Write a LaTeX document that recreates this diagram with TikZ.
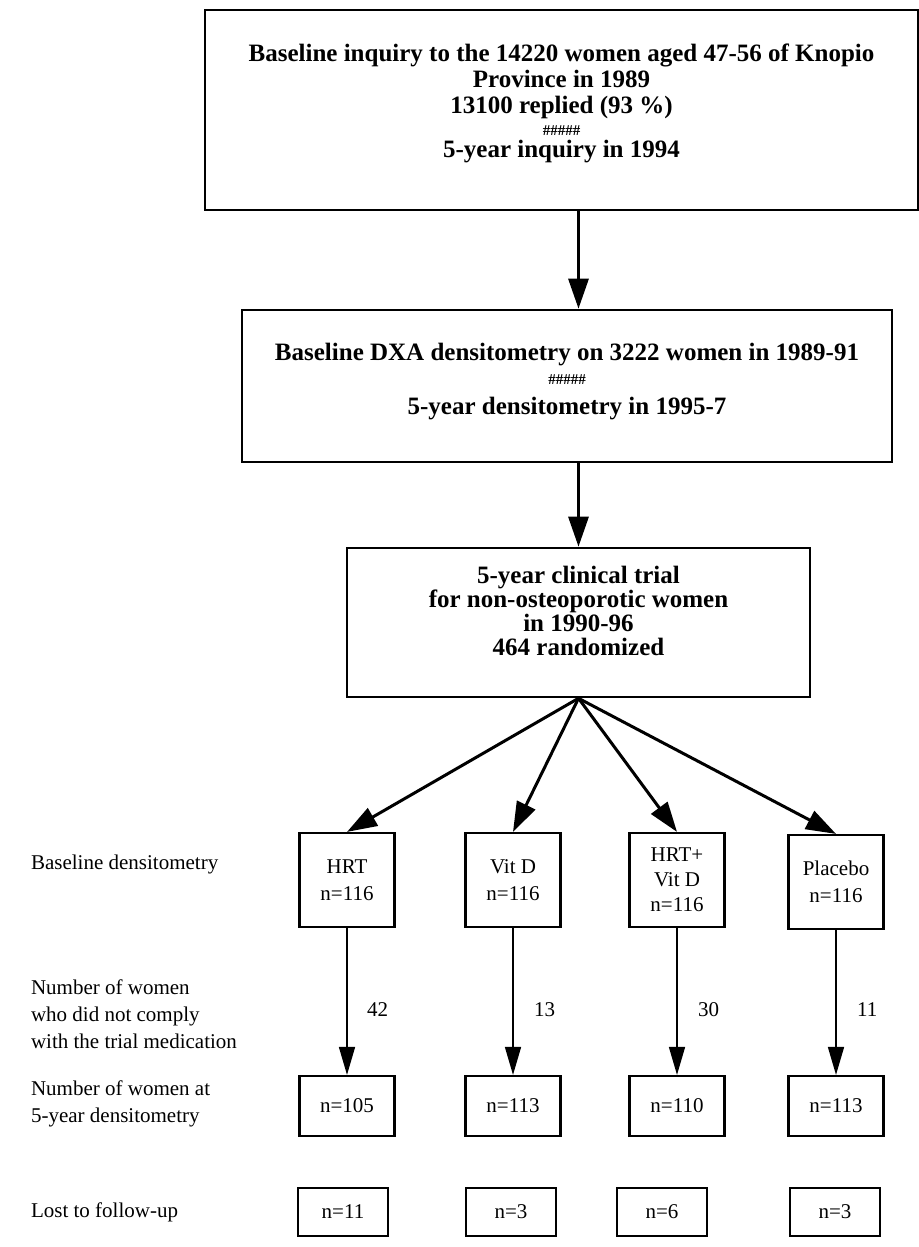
\documentclass[tikz,border=0pt]{standalone}
\usepackage{fontspec}
\setmainfont{Liberation Serif}
\usetikzlibrary{arrows.meta}
\tikzset{>={Triangle[length=14pt,width=8pt]}}
\tikzset{
  stagebox/.style={draw, line width=1.3pt, align=center, font=\bfseries\fontsize{12.5}{13}\selectfont},
  armbox/.style={draw, line width=1.1pt, align=center, minimum width=47.5pt, font=\fontsize{10.5}{13.5}\selectfont},
  rowlabel/.style={anchor=west, align=left, font=\fontsize{10.5}{13.5}\selectfont},
  dropcount/.style={anchor=west, font=\fontsize{10.5}{12}\selectfont},
  fan/.style={-{Triangle[length=15pt,width=10pt]}, line width=1.5pt}
}
\newcommand{\hashrow}{{\fontsize{7.5}{7.5}\selectfont\#\#\#\#\#}}

\begin{document}
\begin{tikzpicture}[x=0.5pt, y=-0.5pt]
    \useasboundingbox (0,0) rectangle (919,1247);

    \node[stagebox, minimum width=356.5pt, minimum height=100pt, text depth=9pt] (inquiry) at (561.5,110) {Baseline inquiry to the 14220 women aged 47-56 of Knopio \\ Province in 1989 \\ 13100 replied (93 \%) \\[-2pt] \hashrow \\[-2pt] 5-year inquiry in 1994};
    \node[stagebox, minimum width=325pt, minimum height=76pt, text depth=7pt] (dxa) at (567,386) {Baseline DXA densitometry on 3222 women in 1989-91 \\[-1pt] \hashrow \\[2pt] 5-year densitometry in 1995-7};
    \node[stagebox, minimum width=231.5pt, minimum height=74.5pt, text depth=12pt, font=\bfseries\fontsize{12.5}{12}\selectfont] (trial) at (578.5,622.5) {5-year clinical trial \\ for non-osteoporotic women \\ in 1990-96 \\ 464 randomized};
    \draw[fan] (inquiry.south -| trial.north) -- (dxa.north -| trial.north);
    \draw[fan] (dxa.south -| trial.north) -- (trial.north);

    \node[armbox, minimum height=47pt] (hrt) at (347,880) {HRT \\ n=116};
    \node[armbox, minimum height=47pt] (vitd) at (513,880) {Vit D \\ n=116};
    \node[armbox, minimum height=47pt, font=\fontsize{10.5}{12.5}\selectfont] (combo) at (677,880) {HRT+ \\ Vit D \\ n=116};
    \node[armbox, minimum height=47pt] (placebo) at (836,882) {Placebo \\ n=116};
    \draw[fan] (trial.south) -- (hrt.north);
    \draw[fan] (trial.south) -- (vitd.north);
    \draw[fan] (trial.south) -- (combo.north);
    \draw[fan] (trial.south) -- (placebo.north);

    \node[armbox, minimum height=30pt] (hrtend) at (347,1106) {n=105};
    \node[armbox, minimum height=30pt] (vitdend) at (513,1106) {n=113};
    \node[armbox, minimum height=30pt] (comboend) at (677,1106) {n=110};
    \node[armbox, minimum height=30pt] (placeboend) at (836,1106) {n=113};
    \draw[->, line width=0.8pt] (hrt.south) -- (hrtend.north);
    \draw[->, line width=0.8pt] (vitd.south) -- (vitdend.north);
    \draw[->, line width=0.8pt] (combo.south) -- (comboend.north);
    \draw[->, line width=0.8pt] (placebo.south) -- (placeboend.north);
    \node[dropcount] (hrtdrop) at (360,1010) {42};
    \node[dropcount] (vitddrop) at (527,1010) {13};
    \node[dropcount] (combodrop) at (691,1010) {30};
    \node[dropcount] (placebodrop) at (850,1010) {11};

    \node[armbox, minimum width=45pt, minimum height=24pt] (hrtlost) at (343,1212) {n=11};
    \node[armbox, minimum width=45pt, minimum height=24pt] (vitdlost) at (511,1212) {n=3};
    \node[armbox, minimum width=45pt, minimum height=24pt] (combolost) at (662,1212) {n=6};
    \node[armbox, minimum width=45pt, minimum height=24pt] (placebolost) at (835,1212) {n=3};

    \node[rowlabel] (rowbase) at (24,864) {Baseline densitometry};
    \node[rowlabel] (rowdrop) at (24,1014) {Number of women \\ who did not comply \\ with the trial medication};
    \node[rowlabel] (rowend) at (24,1104) {Number of women at \\ 5-year densitometry};
    \node[rowlabel] (rowlost) at (24,1212) {Lost to follow-up};
\end{tikzpicture}
\end{document}
